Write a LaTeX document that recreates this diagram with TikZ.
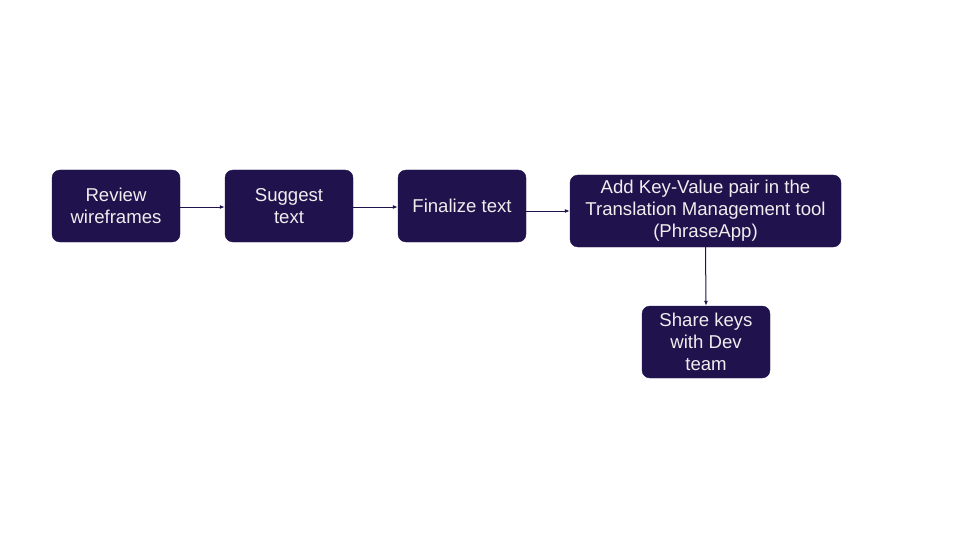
\documentclass[tikz,border=0pt]{standalone}
\usepackage{fontspec}
\setmainfont{Liberation Sans}
\usetikzlibrary{arrows.meta}
\definecolor{boxfill}{HTML}{20124D}
\definecolor{boxtext}{HTML}{EEEEEE}
\tikzset{
  flowbox/.style={draw=boxfill, fill=boxfill, rounded corners=8pt, text=boxtext,
    align=center, inner sep=0pt, font=\fontsize{18.6}{22}\selectfont},
  flowarrow/.style={draw=boxfill, line width=1pt, -{Latex[length=5pt,width=4pt]}}
}
\begin{document}
\begin{tikzpicture}[x=1pt,y=-1pt]
\useasboundingbox (0,0) rectangle (960,540);
\node[flowbox, minimum width=128pt, minimum height=72pt] (a) at (116,206) {Review\\wireframes};
\node[flowbox, minimum width=128pt, minimum height=72pt] (b) at (289,206) {Suggest\\text};
\node[flowbox, minimum width=128pt, minimum height=72pt] (c) at (462,206) {Finalize text};
\node[flowbox, minimum width=271pt, minimum height=72pt] (d) at (705.5,211) {Add Key-Value pair in the\\Translation Management tool\\(PhraseApp)};
\node[flowbox, minimum width=128pt, minimum height=72pt] (e) at (706,342) {Share keys\\with Dev\\team};
\draw[flowarrow] (a.east |- 0,207) -- (b.west |- 0,207);
\draw[flowarrow] (b.east |- 0,207) -- (c.west |- 0,207);
\draw[flowarrow] (c.east |- 0,211) -- (d.west);
\draw[flowarrow] (d.south) -- (e.north);
\end{tikzpicture}
\end{document}
